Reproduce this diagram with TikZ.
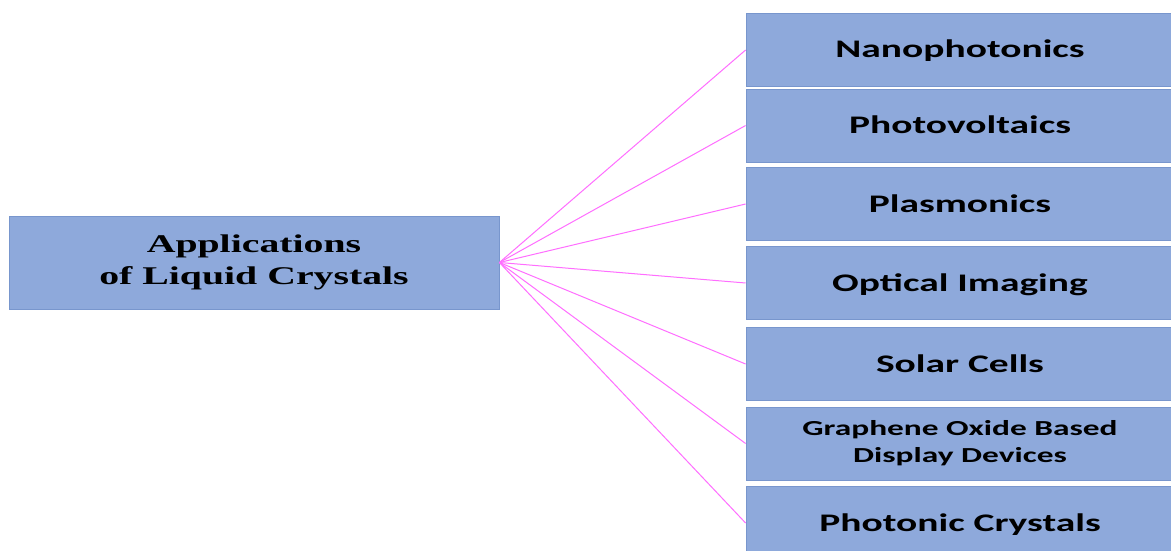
\documentclass[tikz,border=0pt]{standalone}
\usepackage{fontspec}
\setmainfont{Liberation Serif}
\newfontfamily\serifwide[FakeStretch=1.56]{Liberation Serif}
\newfontfamily\calwide[FakeStretch=1.56]{Carlito}
\definecolor{boxfill}{RGB}{142,169,219}
\definecolor{boxline}{RGB}{120,150,205}
\definecolor{linkcol}{RGB}{255,110,255}
\begin{document}
\begin{tikzpicture}[x=1pt,y=-1pt,
  mainbox/.style={draw=boxline,fill=boxfill,line width=0.8pt,minimum width=490pt,minimum height=93pt,inner sep=0pt,align=center,
    font=\serifwide\bfseries\fontsize{25.5}{32}\selectfont},
  appbox/.style={draw=boxline,fill=boxfill,line width=0.8pt,minimum width=428pt,minimum height=73pt,inner sep=0pt,align=center,
    font=\calwide\bfseries\fontsize{25.3}{30}\selectfont},
  onerow/.style={text height=16pt,text depth=0pt},
  link/.style={draw=linkcol,line width=1pt}]
\clip (0,0) rectangle (1171,551);
\fill[white] (0,0) rectangle (1171,551);
\node[mainbox] (L) at (254,262.5) {Applications\\of Liquid Crystals};
\node[appbox,onerow] (a1) at (960,50) {Nanophotonics};
\node[appbox,onerow] (a2) at (960,125.5) {Photovoltaics};
\node[appbox,onerow] (a3) at (960,204) {Plasmonics};
\node[appbox,onerow] (a4) at (960,283) {Optical Imaging};
\node[appbox,onerow] (a5) at (960,364) {Solar Cells};
\node[appbox,font=\calwide\bfseries\fontsize{21.4}{27}\selectfont] (a6) at (960,443.5) {Graphene Oxide Based\\Display Devices};
\node[appbox,onerow] (a7) at (960,523) {Photonic Crystals};
\foreach \i in {1,...,7} {
  \draw[link] (L.east) -- (a\i.west);
}
\end{tikzpicture}
\end{document}
